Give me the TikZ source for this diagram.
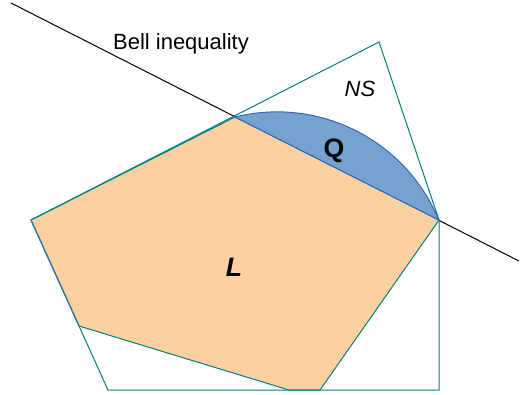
\documentclass[tikz,border=0pt]{standalone}
\usepackage{fontspec}
\setmainfont{Liberation Sans}
\definecolor{lfill}{RGB}{252,208,160}
\definecolor{ledge}{RGB}{70,110,190}
\definecolor{qfill}{RGB}{117,163,208}
\definecolor{qedge}{RGB}{60,100,180}
\definecolor{nsedge}{RGB}{0,128,128}
\begin{document}
\begin{tikzpicture}[x=0.75pt,y=0.75pt,yscale=-1,xscale=1,
  lbl/.style={inner sep=0.75pt,font=\fontsize{16.5}{18}\selectfont},
  biglbl/.style={inner sep=0.75pt,font=\fontsize{20}{22}\selectfont}]
\useasboundingbox (0,0) rectangle (520,394);
% corners of the polytopes
\coordinate (A) at (235,117);
\coordinate (B) at (439,220);
\coordinate (W) at (31,220);
\coordinate (T) at (379,42);
\coordinate (R) at (439,390);
\coordinate (V) at (108,390);
\coordinate (K) at (79,326);
%Straight Lines: Bell inequality
\coordinate (bl) at (11,3);
\coordinate (br) at (519,261);
\draw [line width=0.75] (bl) -- (br) ;
%Shape: local polytope L
\draw [color=nsedge,line width=0.75,fill=lfill] (A) -- (B) -- (320,390) -- (289,390) -- (K) -- (W) -- cycle ;
%Shape: quantum set Q
\draw [color=qedge,line width=0.75,fill=qfill] (A) arc [start angle=-103.9,end angle=-22.5,radius=175] -- cycle ;
%Shape: no-signalling polytope NS
\draw [color=nsedge,line width=0.75] (W) -- (T) -- (B) -- (R) -- (V) -- cycle ;
\draw [color=ledge,line width=0.75] (W) -- (K) ;

% Text Node
\node [lbl] (bell) at (181,44) {Bell inequality};
% Text Node
\node [lbl] (ns) at (360,89) {\itshape NS};
% Text Node
\node [biglbl] (q) at (334,151) {\bfseries Q};
% Text Node
\node [biglbl] (l) at (234,267) {\bfseries\itshape L};
\end{tikzpicture}
\end{document}
